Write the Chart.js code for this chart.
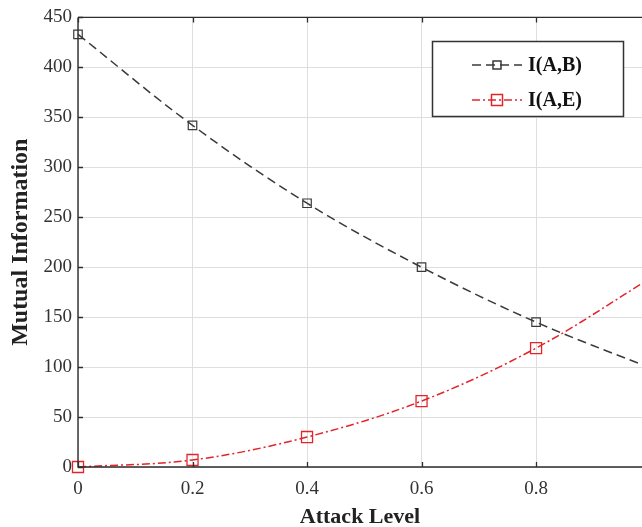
<!DOCTYPE html>
<html>
<head>
<meta charset="utf-8">
<script src="https://cdn.jsdelivr.net/npm/chart.js@4.4.1/dist/chart.umd.min.js"></script>
<style>
  html, body { margin: 0; padding: 0; background: #fff; }
  #wrap { width: 642px; height: 527px; position: relative; }
</style>
</head>
<body>
<div id="wrap"><canvas id="c" width="642" height="527"></canvas></div>
<script>
const attackLevels = [0, 0.2, 0.4, 0.6, 0.8, 1.0];
const iAB = [433, 342, 264, 200, 145, 99];
const iAE = [0, 7, 30, 66, 119, 189];
const xTickValues = [0, 0.2, 0.4, 0.6, 0.8];
const xTickLabels = ['0', '0.2', '0.4', '0.6', '0.8'];
const yTickValues = [0, 50, 100, 150, 200, 250, 300, 350, 400, 450];
const seriesNames = ['I(A,B)', 'I(A,E)'];

const BLACK = '#3a3a3a';
const RED = '#e3242b';
const AXIS = '#2e2e2e';
const SERIF = '"Liberation Serif", "Times New Roman", serif';

function pts(vals) { return attackLevels.map((x, i) => ({ x: x, y: vals[i] })); }

const frame = {
  id: 'frame',
  afterDraw(chart) {
    const ctx = chart.ctx, a = chart.chartArea;
    const xs = chart.scales.x, ys = chart.scales.y;
    ctx.save();
    ctx.strokeStyle = AXIS;
    ctx.lineWidth = 1.4;
    ctx.beginPath();
    ctx.moveTo(a.left, a.top); ctx.lineTo(a.right, a.top);
    ctx.moveTo(a.left, a.top); ctx.lineTo(a.left, a.bottom);
    ctx.lineTo(a.right, a.bottom);
    ctx.stroke();
    ctx.lineWidth = 1.3;
    ctx.beginPath();
    xTickValues.forEach(v => {
      const px = Math.round(xs.getPixelForValue(v)) + 0.5;
      ctx.moveTo(px, a.bottom); ctx.lineTo(px, a.bottom - 5);
      ctx.moveTo(px, a.top); ctx.lineTo(px, a.top + 5);
    });
    yTickValues.forEach(v => {
      const py = Math.round(ys.getPixelForValue(v)) + 0.5;
      ctx.moveTo(a.left, py); ctx.lineTo(a.left + 5, py);
    });
    ctx.stroke();

    // legend
    const bx = 432, by = 41, bw = 191, bh = 75;
    ctx.fillStyle = '#fff';
    ctx.fillRect(bx, by, bw, bh);
    ctx.strokeStyle = '#333';
    ctx.lineWidth = 1.5;
    ctx.strokeRect(bx + 0.5, by + 0.5, bw, bh);
    const rows = [
      { name: seriesNames[0], color: BLACK, dash: [9, 5], y: 65, size: 8 },
      { name: seriesNames[1], color: RED, dash: [8, 3, 2, 3], y: 100, size: 11 }
    ];
    rows.forEach(r => {
      ctx.strokeStyle = r.color;
      ctx.lineWidth = 1.5;
      ctx.setLineDash(r.dash);
      ctx.beginPath();
      ctx.moveTo(472, r.y); ctx.lineTo(522, r.y);
      ctx.stroke();
      ctx.setLineDash([]);
      ctx.strokeRect(497 - r.size / 2, r.y - r.size / 2, r.size, r.size);
      ctx.fillStyle = '#111';
      ctx.font = 'bold 20px ' + SERIF;
      ctx.textBaseline = 'middle';
      ctx.textAlign = 'left';
      ctx.fillText(r.name, 528, r.y + 1);
    });
    ctx.restore();
  }
};

new Chart(document.getElementById('c'), {
  type: 'line',
  data: {
    datasets: [
      {
        label: seriesNames[0],
        data: pts(iAB),
        borderColor: BLACK,
        borderWidth: 1.5,
        borderDash: [9, 5],
        tension: 0.35,
        pointStyle: 'rect',
        pointRadius: 6,
        pointBorderColor: BLACK,
        pointBackgroundColor: 'rgba(0,0,0,0)',
        pointBorderWidth: 1.2,
        clip: { left: 12, top: 12, right: 0, bottom: 12 },
        fill: false
      },
      {
        label: seriesNames[1],
        data: pts(iAE),
        borderColor: RED,
        borderWidth: 1.5,
        borderDash: [8, 3, 2, 3],
        tension: 0.35,
        pointStyle: 'rect',
        pointRadius: 7.8,
        pointBorderColor: RED,
        pointBackgroundColor: 'rgba(0,0,0,0)',
        pointBorderWidth: 1.3,
        clip: { left: 12, top: 12, right: 0, bottom: 12 },
        fill: false
      }
    ]
  },
  options: {
    responsive: false,
    animation: false,
    layout: { autoPadding: false, padding: { top: 17, right: 0, left: 0, bottom: 0 } },
    plugins: { legend: { display: false }, tooltip: { enabled: false } },
    scales: {
      x: {
        type: 'linear',
        min: 0,
        max: 0.985,
        afterBuildTicks(s) { s.ticks = xTickValues.map(v => ({ value: v })); },
        afterFit(s) { s.height = 60; },
        grid: { color: '#dedede', lineWidth: 1, drawTicks: false },
        border: { display: false },
        ticks: {
          padding: 11,
          color: '#333',
          font: { family: SERIF, size: 19 },
          maxRotation: 0,
          callback(v) { const i = xTickValues.indexOf(v); return i >= 0 ? xTickLabels[i] : ''; }
        },
        title: {
          display: true,
          text: 'Attack Level',
          color: '#222',
          font: { family: SERIF, size: 22, weight: 'bold' },
          padding: { top: 0, bottom: -4 }
        }
      },
      y: {
        min: 0,
        max: 450,
        afterBuildTicks(s) { s.ticks = yTickValues.map(v => ({ value: v })); },
        afterFit(s) { s.width = 78; },
        grid: { color: '#dedede', lineWidth: 1, drawTicks: false },
        border: { display: false },
        ticks: {
          padding: 6,
          color: '#333',
          font: { family: SERIF, size: 19 }
        },
        title: {
          display: true,
          text: 'Mutual Information',
          color: '#222',
          font: { family: SERIF, size: 24, weight: 'bold' },
          padding: { top: 6, bottom: 0 }
        }
      }
    }
  },
  plugins: [frame]
});
</script>
</body>
</html>
